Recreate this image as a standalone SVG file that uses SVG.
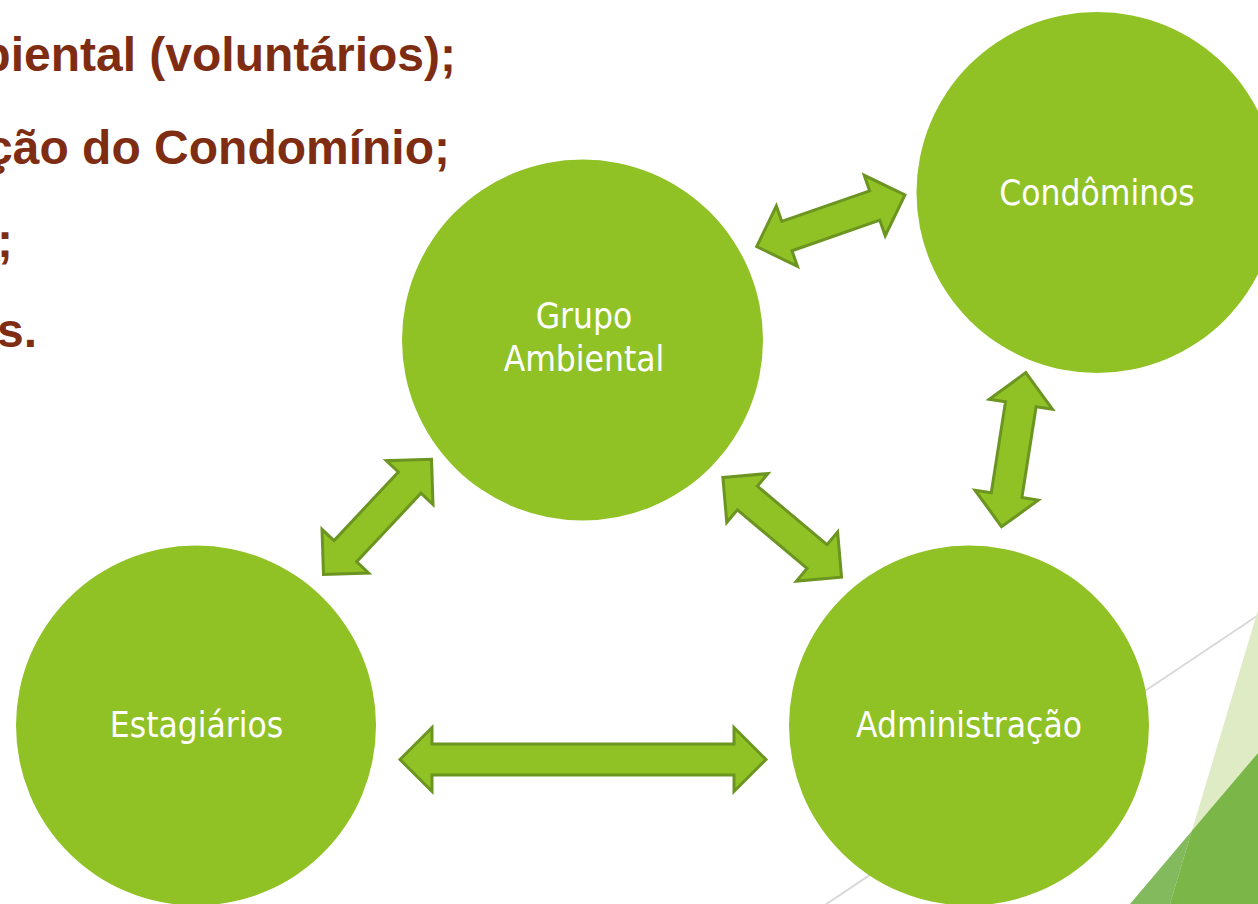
<svg xmlns="http://www.w3.org/2000/svg" width="1258" height="904" viewBox="0 0 1258 904">
  <style>
    .bullet { font-family: "Liberation Sans", Arial, sans-serif; font-weight: bold; font-size: 48px; fill: #7E2D13; }
    .node { fill: #90C226; }
    .label { font-family: "DejaVu Sans Condensed", "DejaVu Sans", sans-serif; font-stretch: condensed; font-size: 35px; fill: #FFFFFF; text-anchor: middle; }
    .arrow { fill: #90C226; stroke: #6B9520; stroke-width: 3; stroke-linejoin: miter; }
  </style>
  <rect x="0" y="0" width="1258" height="904" fill="#FFFFFF"/>

  <g id="background">
    <line x1="1260" y1="614" x2="822" y2="907" stroke="#D9D9D9" stroke-width="2"/>
    <polygon points="1258,610 1170,904 1258,904" fill="#DEEBC4"/>
    <polygon points="1191.8,831 1130,904 1170,904" fill="#84BA5E"/>
    <polygon points="1258,753 1191.8,831 1170,904 1258,904" fill="#7AB648"/>
  </g>

  <g id="bullets">
    <text class="bullet" x="456" y="71" text-anchor="end">biental (voluntários);</text>
    <text class="bullet" x="450" y="164" text-anchor="end">ção do Condomínio;</text>
    <text class="bullet" x="-3" y="257">;</text>
    <text class="bullet" x="-3" y="347">s.</text>
  </g>

  <g id="node-grupo-ambiental">
    <circle class="node" cx="582.5" cy="340" r="180.5"/>
    <text class="label" x="584" y="328">Grupo</text>
    <text class="label" x="584" y="371">Ambiental</text>
  </g>
  <g id="node-condominos">
    <circle class="node" cx="1097" cy="192.5" r="180.5"/>
    <text class="label" x="1097" y="205">Condôminos</text>
  </g>
  <g id="node-estagiarios">
    <circle class="node" cx="196" cy="725.5" r="180"/>
    <text class="label" x="196.5" y="737">Estagiários</text>
  </g>
  <g id="node-administracao">
    <circle class="node" cx="969" cy="725.5" r="180"/>
    <text class="label" x="969" y="737">Administração</text>
  </g>

  <g id="connectors">
    <polygon class="arrow" transform="translate(583,759.5)" points="-183,0 -151,-32 -151,-15.5 151,-15.5 151,-32 183,0 151,32 151,15.5 -151,15.5 -151,32"/>
    <polygon class="arrow" transform="translate(830.8,220.8) rotate(-19.2)" points="-78.5,0 -46.5,-32 -46.5,-15.5 46.5,-15.5 46.5,-32 78.5,0 46.5,32 46.5,15.5 -46.5,15.5 -46.5,32"/>
    <polygon class="arrow" transform="translate(1013.7,449.7) rotate(-81.1)" points="-78,0 -46,-32 -46,-15.5 46,-15.5 46,-32 78,0 46,32 46,15.5 -46,15.5 -46,32"/>
    <polygon class="arrow" transform="translate(377.5,516.9) rotate(-46.85)" points="-79,0 -47,-32 -47,-15.5 47,-15.5 47,-32 79,0 47,32 47,15.5 -47,15.5 -47,32"/>
    <polygon class="arrow" transform="translate(782.2,527.3) rotate(40.04)" points="-77.5,0 -45.5,-32 -45.5,-15.5 45.5,-15.5 45.5,-32 77.5,0 45.5,32 45.5,15.5 -45.5,15.5 -45.5,32"/>
  </g>
</svg>
